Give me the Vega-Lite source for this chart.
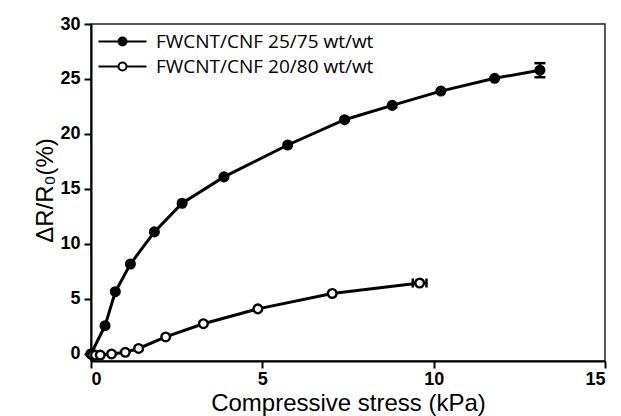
{
  "$schema": "https://vega.github.io/schema/vega-lite/v6.json",
  "width": 514,
  "height": 337,
  "autosize": {"type": "none"},
  "padding": {"left": 91, "top": 24, "right": 16, "bottom": 55},
  "background": "white",
  "config": {
    "view": {"stroke": "#222", "strokeWidth": 1.5},
    "axis": {
      "grid": false,
      "domainColor": "black",
      "domainWidth": 2,
      "tickColor": "black",
      "tickWidth": 2,
      "tickSize": 7,
      "labelFont": "Liberation Sans",
      "labelFontWeight": "bold",
      "labelFontSize": 18,
      "labelColor": "black",
      "titleFont": "Liberation Sans",
      "titleFontWeight": "normal",
      "titleFontSize": 24,
      "titleColor": "black"
    }
  },
  "data": {
    "values": [
      {"series": "FWCNT/CNF 25/75 wt/wt", "x": 0, "y": 0},
      {"series": "FWCNT/CNF 25/75 wt/wt", "x": 0.41, "y": 2.57},
      {"series": "FWCNT/CNF 25/75 wt/wt", "x": 0.71, "y": 5.66},
      {"series": "FWCNT/CNF 25/75 wt/wt", "x": 1.15, "y": 8.18},
      {"series": "FWCNT/CNF 25/75 wt/wt", "x": 1.85, "y": 11.1},
      {"series": "FWCNT/CNF 25/75 wt/wt", "x": 2.66, "y": 13.7},
      {"series": "FWCNT/CNF 25/75 wt/wt", "x": 3.88, "y": 16.1},
      {"series": "FWCNT/CNF 25/75 wt/wt", "x": 5.74, "y": 19.0},
      {"series": "FWCNT/CNF 25/75 wt/wt", "x": 7.4, "y": 21.3},
      {"series": "FWCNT/CNF 25/75 wt/wt", "x": 8.79, "y": 22.6},
      {"series": "FWCNT/CNF 25/75 wt/wt", "x": 10.21, "y": 23.9},
      {"series": "FWCNT/CNF 25/75 wt/wt", "x": 11.78, "y": 25.06},
      {"series": "FWCNT/CNF 25/75 wt/wt", "x": 13.1, "y": 25.8, "yLo": 25.16, "yHi": 26.44},
      {"series": "FWCNT/CNF 20/80 wt/wt", "x": 0, "y": 0},
      {"series": "FWCNT/CNF 20/80 wt/wt", "x": 0.05, "y": -0.1},
      {"series": "FWCNT/CNF 20/80 wt/wt", "x": 0.13, "y": -0.1},
      {"series": "FWCNT/CNF 20/80 wt/wt", "x": 0.27, "y": -0.1},
      {"series": "FWCNT/CNF 20/80 wt/wt", "x": 0.6, "y": 0.0},
      {"series": "FWCNT/CNF 20/80 wt/wt", "x": 1.0, "y": 0.15},
      {"series": "FWCNT/CNF 20/80 wt/wt", "x": 1.39, "y": 0.5},
      {"series": "FWCNT/CNF 20/80 wt/wt", "x": 2.18, "y": 1.55},
      {"series": "FWCNT/CNF 20/80 wt/wt", "x": 3.28, "y": 2.75},
      {"series": "FWCNT/CNF 20/80 wt/wt", "x": 4.87, "y": 4.1},
      {"series": "FWCNT/CNF 20/80 wt/wt", "x": 7.04, "y": 5.5},
      {"series": "FWCNT/CNF 20/80 wt/wt", "x": 9.59, "y": 6.45, "xLo": 9.39, "xHi": 9.79}
    ]
  },
  "layer": [
    {
      "mark": {"type": "line", "color": "black", "strokeWidth": 3},
      "encoding": {
        "x": {"field": "x", "type": "quantitative", "scale": {"domain": [0, 15], "nice": false},
              "axis": {"title": "Compressive stress (kPa)", "values": [0, 5, 10, 15], "labelPadding": 2,
                       "titleX": 257, "titleY": 42, "titleBaseline": "middle", "titleAlign": "center"}},
        "y": {"field": "y", "type": "quantitative", "scale": {"domain": [-0.64, 30], "nice": false, "zero": false},
              "axis": {"title": "ΔR/R₀(%)", "values": [0, 5, 10, 15, 20, 25, 30], "labelPadding": 4,
                       "titleX": -46, "titleY": 166, "titleBaseline": "middle", "titleAlign": "center", "titleAngle": 270}},
        "detail": {"field": "series"}
      }
    },
    {
      "transform": [{"filter": "isValid(datum.yLo)"}],
      "mark": {"type": "errorbar", "thickness": 2.5,
               "rule": {"color": "black", "opacity": 1, "strokeWidth": 2.5},
               "ticks": {"size": 11, "thickness": 2.5, "color": "black", "opacity": 1}},
      "encoding": {
        "x": {"field": "x", "type": "quantitative", "title": "Compressive stress (kPa)"},
        "y": {"field": "yLo", "type": "quantitative", "title": "ΔR/R₀(%)"},
        "y2": {"field": "yHi"}
      }
    },
    {
      "transform": [{"filter": "isValid(datum.xLo)"}],
      "mark": {"type": "errorbar", "thickness": 2.5,
               "rule": {"color": "black", "opacity": 1, "strokeWidth": 2.5},
               "ticks": {"size": 9, "thickness": 2.5, "color": "black", "opacity": 1}},
      "encoding": {
        "y": {"field": "y", "type": "quantitative", "title": "ΔR/R₀(%)"},
        "x": {"field": "xLo", "type": "quantitative", "title": "Compressive stress (kPa)"},
        "x2": {"field": "xHi"}
      }
    },
    {
      "mark": {"type": "point", "filled": true, "stroke": "black", "strokeWidth": 2.4, "size": 75, "opacity": 1},
      "encoding": {
        "x": {"field": "x", "type": "quantitative"},
        "y": {"field": "y", "type": "quantitative"},
        "fill": {
          "field": "series",
          "type": "nominal",
          "scale": {"domain": ["FWCNT/CNF 25/75 wt/wt", "FWCNT/CNF 20/80 wt/wt"], "range": ["black", "white"]},
          "legend": {
            "title": null,
            "orient": "none",
            "legendX": 22,
            "legendY": 8,
            "padding": 0,
            "symbolType": "M-3,0H-0.5A0.5,0.5,0,1,1,0.5,0A0.5,0.5,0,1,1,-0.5,0M0.5,0H3",
            "symbolSize": 256,
            "symbolStrokeColor": "black",
            "symbolStrokeWidth": 2,
            "symbolOpacity": 1,
            "labelOffset": 24,
            "labelFont": "Open Sans",
            "labelFontSize": 19,
            "labelColor": "black",
            "labelLimit": 400,
            "rowPadding": 5
          }
        }
      }
    }
  ]
}
